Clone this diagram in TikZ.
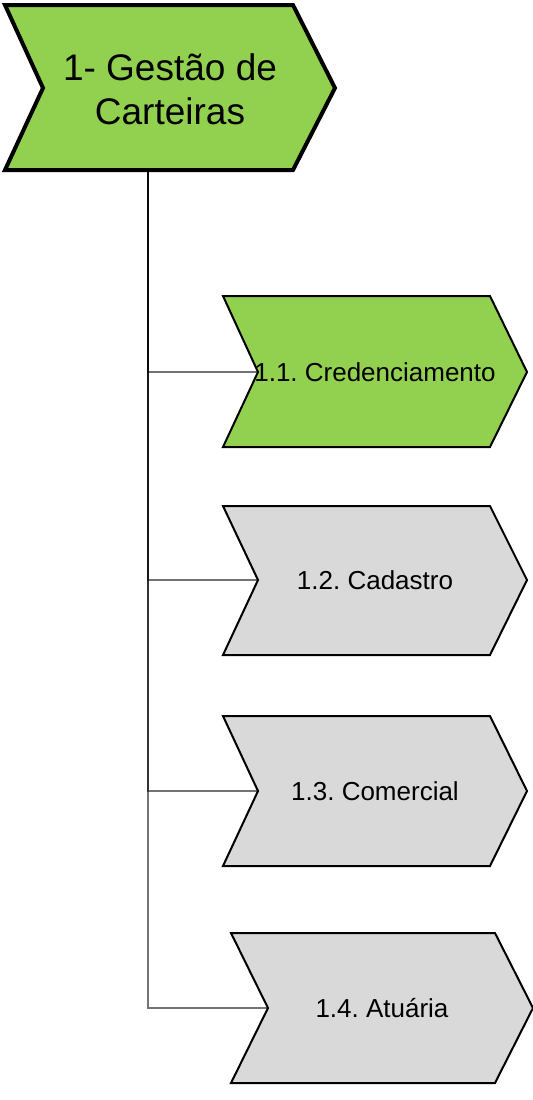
\documentclass[tikz,border=0pt]{standalone}
\usepackage{fontspec}
\setmainfont{Liberation Sans}
\definecolor{procgreen}{HTML}{92D050}
\definecolor{procgray}{HTML}{D9D9D9}
\frenchspacing
\tikzset{
    mainbox/.style={draw, line width=2pt, fill=procgreen, line join=miter},
    subbox/.style={draw, line width=1pt, fill=#1, line join=miter},
    subtext/.style={font=\fontsize{13}{15}\selectfont},
    link/.style={draw=black, draw opacity=0.55, line width=0.6pt}
}

\begin{document}
\begin{tikzpicture}[x=0.5pt,y=-0.5pt]
    \useasboundingbox (0,0) rectangle (533,1100);

    % Gestao de Carteiras
    \draw[mainbox] (5,5) -- (293,5) -- (335,88) -- (293,170) -- (5,170) -- (43,88) -- cycle;
    \node[font=\fontsize{18.5}{22}\selectfont, align=center] (gestao) at (170,89) {1- Gestão de\\Carteiras};
    \coordinate (spine) at (148,170);

    % Credenciamento
    \draw[subbox=procgreen] (223,296) -- (490,296) -- (527,372) -- (490,447) -- (223,447) -- (258,372) -- cycle;
    \node[subtext] (cred) at (375,372) {1.1. Credenciamento};
    \coordinate (credin) at (258,372);

    % Cadastro
    \draw[subbox=procgray] (223,506) -- (490,506) -- (527,580) -- (490,655) -- (223,655) -- (258,580) -- cycle;
    \node[subtext] (cad) at (375,580) {1.2. Cadastro};
    \coordinate (cadin) at (258,580);

    % Comercial
    \draw[subbox=procgray] (223,716) -- (490,716) -- (527,791) -- (490,866) -- (223,866) -- (258,791) -- cycle;
    \node[subtext] (com) at (375,791) {1.3. Comercial};
    \coordinate (comin) at (258,791);

    % Atuaria
    \draw[subbox=procgray] (231,933) -- (495,933) -- (533,1008) -- (495,1083) -- (231,1083) -- (268,1008) -- cycle;
    \node[subtext] (atu) at (382,1008) {1.4. Atuária};
    \coordinate (atuin) at (268,1008);

    % Connections
    \draw[link] (spine) |- (credin);
    \draw[link] (spine) |- (cadin);
    \draw[link] (spine) |- (comin);
    \draw[link] (spine) |- (atuin);

\end{tikzpicture}
\end{document}
